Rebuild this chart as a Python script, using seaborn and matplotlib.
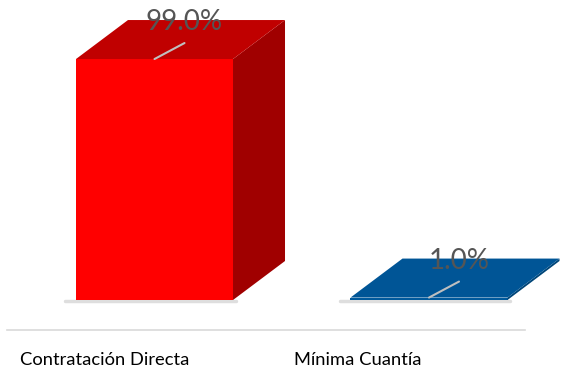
"""Contratación por modalidad - barras 3D"""

import matplotlib
matplotlib.use('Agg')
import matplotlib.pyplot as plt
import seaborn as sns
from matplotlib.patches import Polygon
from matplotlib.transforms import ScaledTranslation

# Data
categories = ['Contratación Directa', 'Mínima Cuantía']
values = [99.0, 1.0]
labels = ['99.0%', '1.0%']
front_colors = ['#FF0000', '#00599C']
top_colors = ['#C00000', '#005596']
side_colors = ['#A00000', '#004578']

sns.set_style('white')
plt.rcParams['font.family'] = ['Lato', 'DejaVu Sans']

fig = plt.figure(figsize=(5.67, 3.68), dpi=100)
ax = fig.add_axes([7 / 567, 38 / 368, 518 / 567, 330 / 368])

sns.barplot(x=categories, y=values, hue=categories, palette=front_colors,
            legend=False, width=0.572, saturation=1, ax=ax)

# pixel scale of the axes
px_x = 274.5          # pixels per category step
px_y = 2.434          # pixels per percentage point
depth_x = 52 / px_x
depth_y = 39 / px_y

ax.set_xlim(-(154.5 - 7) / px_x, (525 - 154.5) / px_x)
ax.set_ylim(-30 / px_y, 300 / px_y)

for i, patch in enumerate(ax.patches):
    x0 = patch.get_x()
    w = patch.get_width()
    h = patch.get_height()
    patch.set_edgecolor('none')
    top = Polygon([(x0, h), (x0 + w, h), (x0 + w + depth_x, h + depth_y),
                   (x0 + depth_x, h + depth_y)], closed=True,
                  facecolor=top_colors[i], edgecolor='none', clip_on=False)
    side = Polygon([(x0 + w, 0), (x0 + w + depth_x, depth_y),
                    (x0 + w + depth_x, h + depth_y), (x0 + w, h)], closed=True,
                   facecolor=side_colors[i], edgecolor='none', clip_on=False)
    ax.add_patch(side)
    ax.add_patch(top)
    # soft shadow under the front edge
    ax.plot([x0 - 0.04, x0 + w + 0.01], [-0.6, -0.6], color='#c8c8c8',
            linewidth=2.5, alpha=0.6, solid_capstyle='round', zorder=0)

    cx = x0 + w / 2
    ax.annotate('', xy=(cx, h), xytext=(30, 16), textcoords='offset pixels',
                arrowprops=dict(arrowstyle='-', color='#bfbfbf', linewidth=1.5,
                                shrinkA=0, shrinkB=0))
    ax.annotate(labels[i], xy=(cx, h), xytext=(30, 37), textcoords='offset pixels',
                ha='center', va='center', fontsize=20, color='#555555')

ax.set_yticks([])
ax.set_xlabel('')
ax.set_ylabel('')
for s in ['top', 'left', 'right']:
    ax.spines[s].set_visible(False)
ax.spines['bottom'].set_color('#d9d9d9')
ax.spines['bottom'].set_linewidth(1.2)
ax.tick_params(axis='x', length=0, labelsize=13.2, labelcolor='#000000', pad=16)
# category labels start ~56 px left of each bar's front face
shift = ScaledTranslation(-134.5 / 100, 0, fig.dpi_scale_trans)
for lab in ax.get_xticklabels():
    lab.set_horizontalalignment('left')
    lab.set_transform(lab.get_transform() + shift)

fig.savefig('out.png', dpi=100)
